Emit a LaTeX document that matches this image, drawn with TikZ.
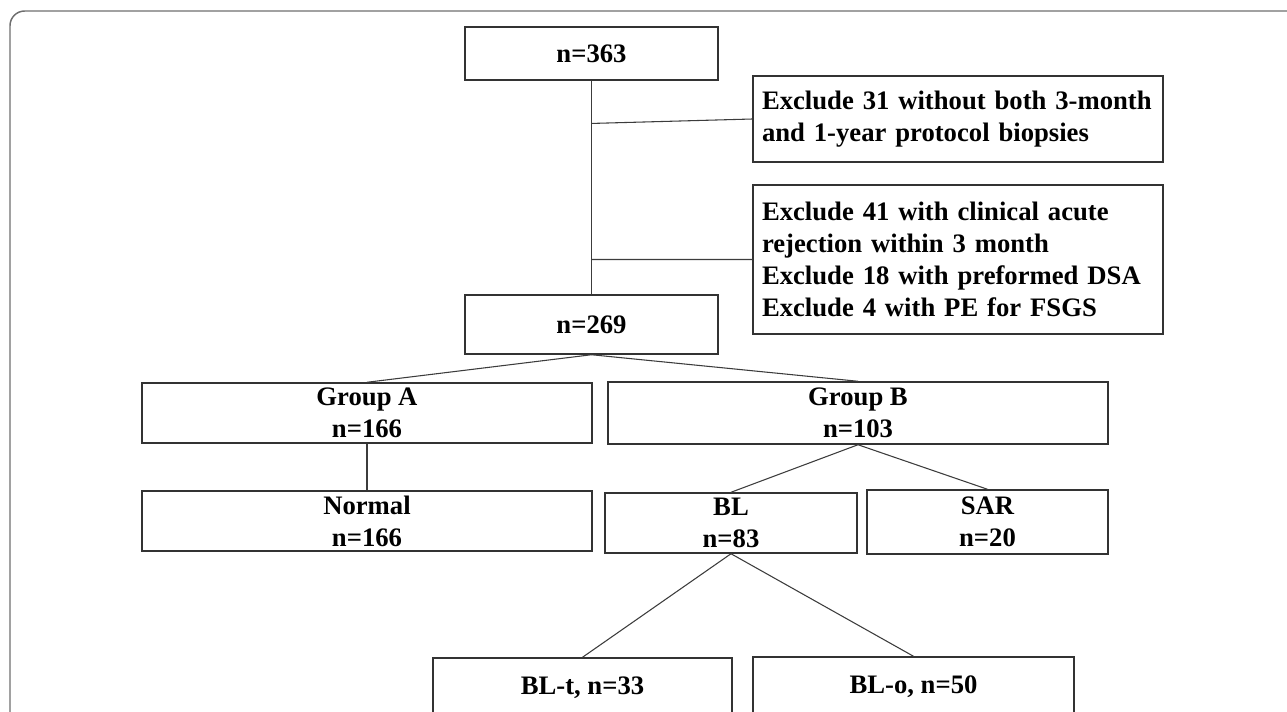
\documentclass[tikz,border=0pt]{standalone}
\usepackage{fontspec}
\setmainfont{Liberation Serif}
\usepackage{tikz}
\usetikzlibrary{calc}
\definecolor{boxline}{HTML}{333333}
\definecolor{linkgray}{HTML}{3C3C3C}
\definecolor{framegray}{HTML}{6E6E6E}

\begin{document}
\begin{tikzpicture}[
x=0.75pt, y=-0.75pt,
box/.style={draw=boxline, line width=1.1pt, inner sep=0pt, align=center, font=\bfseries\fontsize{20}{24}\selectfont},
note/.style={box, align=left, inner xsep=6.75pt, text width=294pt},
link/.style={draw=linkgray, line width=0.8pt}
]
\useasboundingbox (0,0) rectangle (1287,711);
\clip (0,0) rectangle (1287,711);
\draw[framegray, line width=1.1pt, rounded corners=11pt] (10,11) rectangle (1320,740);
\node[box, minimum width=189.75pt, minimum height=39.75pt] (n363) at (591.5,53.5) {n=363};
\node[note, minimum height=64.5pt] (ex31) at (958,119) {Exclude 31 without both 3-month\\and 1-year protocol biopsies};
\node[note, minimum height=111.75pt] (ex41) at (958,259.5) {Exclude 41 with clinical acute\\rejection within 3 month\\Exclude 18 with preformed DSA\\Exclude 4 with PE for FSGS};
\node[box, minimum width=189.75pt, minimum height=44.25pt] (n269) at (591.5,324.5) {n=269};
\node[box, minimum width=337.5pt, minimum height=45pt] (grpA) at (367,413) {Group A\\n=166};
\node[box, minimum width=375pt, minimum height=46.5pt] (grpB) at (858,413) {Group B\\n=103};
\node[box, minimum width=337.5pt, minimum height=45pt] (normal) at (367,521) {Normal\\n=166};
\node[box, minimum width=189pt, minimum height=45pt] (bl) at (731,523) {BL\\n=83};
\node[box, minimum width=180.75pt, minimum height=48pt] (sar) at (987.5,522) {SAR\\n=20};
\node[box, minimum width=224.25pt, minimum height=45pt] (blt) at (582.5,688) {BL-t, n=33};
\node[box, minimum width=240.75pt, minimum height=45pt] (blo) at (913.5,687) {BL-o, n=50};
\coordinate (j1) at ($(n363.south)!0.2!(n269.north)$);
\coordinate (j2) at ($(n363.south)!0.837!(n269.north)$);
\draw[link] (n363.south) -- (n269.north);
\draw[link] (j1) -- (ex31.west);
\draw[link] (j2) -- (ex41.west);
\draw[link] (n269.south) -- (grpA.north);
\draw[link] (n269.south) -- (grpB.north);
\draw[link] (grpA.south) -- (normal.north);
\draw[link] (grpB.south) -- (bl.north);
\draw[link] (grpB.south) -- (sar.north);
\draw[link] (bl.south) -- (blt.north);
\draw[link] (bl.south) -- (blo.north);
\end{tikzpicture}
\end{document}
